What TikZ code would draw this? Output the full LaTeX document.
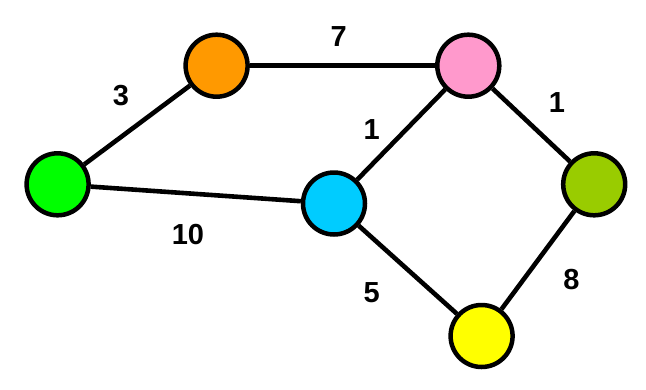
\documentclass[tikz,border=0pt]{standalone}
\usepackage{fontspec}
\setmainfont{Liberation Sans}
\usepackage{tikz}
\definecolor{vorange}{HTML}{FF9900}
\definecolor{vpink}{HTML}{FF99CC}
\definecolor{vgreen}{HTML}{00FF00}
\definecolor{vblue}{HTML}{00CCFF}
\definecolor{volive}{HTML}{99CC00}
\definecolor{vyellow}{HTML}{FFFF00}

\begin{document}
\begin{tikzpicture}[
  x=1pt, y=-1pt,
  vert/.style={circle, draw=black, line width=4.5pt, minimum size=62pt, inner sep=0pt},
  edge/.style={line width=4.6pt, black},
  lbl/.style={font=\fontsize{29}{31}\selectfont\bfseries, inner sep=0pt},
]
\useasboundingbox (0,0) rectangle (646,389);
\node[vert, fill=vorange] (orng) at (216.6,65.7) {};
\node[vert, fill=vpink] (pink) at (468.3,65.7) {};
\node[vert, fill=vgreen] (grn) at (57.6,184.3) {};
\node[vert, fill=vblue] (blu) at (334,203.5) {};
\node[vert, fill=volive] (olv) at (594.2,184.3) {};
\node[vert, fill=vyellow] (ylw) at (481.6,336) {};
% weighted edges
\draw[edge] (grn) -- (orng);
\draw[edge] (orng) -- (pink);
\draw[edge] (grn) -- (blu);
\draw[edge] (pink) -- (blu);
\draw[edge] (pink) -- (olv);
\draw[edge] (blu) -- (ylw);
\draw[edge] (olv) -- (ylw);
\node[lbl] (w3) at (121,96) {3};
\node[lbl] (w7) at (338.7,36.7) {7};
\node[lbl] (w10) at (188,234.3) {10};
\node[lbl] (w1a) at (371.8,130) {1};
\node[lbl] (w1b) at (557,103) {1};
\node[lbl] (w5) at (371.8,293) {5};
\node[lbl] (w8) at (571.4,280) {8};
\end{tikzpicture}
\end{document}
